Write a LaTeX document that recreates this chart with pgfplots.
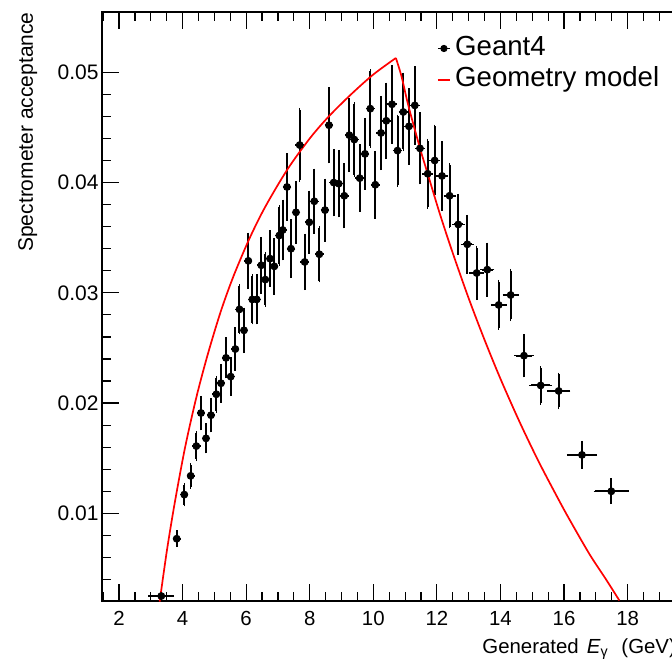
\documentclass[border=0pt]{standalone}
\usepackage{fontspec}
\setmainfont{Liberation Sans}
\usepackage{pgfplots}
\usepackage{pgfplotstable}
\pgfplotsset{compat=1.18}

% Geant4 acceptance per bin: centre, value, half bin width, stat. error
\pgfplotstableread{
x      y       ex     ey
3.33   0.0025  0.35   0.0003
3.815  0.0077  0.075  0.0006
4.054  0.0117  0.075  0.0009
4.255  0.0134  0.075  0.0010
4.432  0.0161  0.075  0.0012
4.579  0.0191  0.075  0.0014
4.737  0.0168  0.075  0.0012
4.894  0.0189  0.075  0.0014
5.061  0.0208  0.075  0.0015
5.209  0.0218  0.075  0.0016
5.366  0.0241  0.075  0.0017
5.514  0.0224  0.075  0.0016
5.658  0.0249  0.075  0.0018
5.79   0.0285  0.075  0.0021
5.932  0.0266  0.075  0.0019
6.067  0.0329  0.075  0.0024
6.193  0.0294  0.075  0.0021
6.332  0.0294  0.075  0.0021
6.476  0.0325  0.075  0.0024
6.602  0.0312  0.075  0.0023
6.75   0.0331  0.075  0.0024
6.885  0.0324  0.075  0.0024
7.043  0.0352  0.08   0.0026
7.15   0.0357  0.08   0.0026
7.285  0.0396  0.08   0.0029
7.411  0.0340  0.08   0.0025
7.568  0.0373  0.08   0.0027
7.684  0.0434  0.08   0.0032
7.842  0.0328  0.08   0.0024
7.986  0.0364  0.08   0.0027
8.143  0.0383  0.08   0.0028
8.301  0.0335  0.08   0.0024
8.48   0.0375  0.08   0.0027
8.606  0.0452  0.08   0.0033
8.754  0.0400  0.08   0.0029
8.911  0.0399  0.08   0.0029
9.087  0.0388  0.08   0.0028
9.244  0.0443  0.085  0.0032
9.402  0.0439  0.085  0.0032
9.572  0.0404  0.085  0.0029
9.738  0.0426  0.085  0.0031
9.905  0.0467  0.085  0.0034
10.062 0.0398  0.085  0.0029
10.242 0.0445  0.09   0.0032
10.408 0.0456  0.09   0.0033
10.588 0.0471  0.09   0.0034
10.761 0.0429  0.09   0.0031
10.943 0.0464  0.09   0.0034
11.122 0.0451  0.09   0.0033
11.305 0.0470  0.10   0.0034
11.468 0.0431  0.10   0.0031
11.71  0.0408  0.11   0.0030
11.93  0.0420  0.11   0.0031
12.16  0.0406  0.12   0.0030
12.40  0.0388  0.13   0.0028
12.673 0.0362  0.14   0.0026
12.956 0.0344  0.15   0.0025
13.252 0.0318  0.17   0.0023
13.585 0.0321  0.17   0.0023
13.944 0.0289  0.19   0.0021
14.321 0.0298  0.20   0.0022
14.74  0.0243  0.25   0.0018
15.265 0.0216  0.30   0.0016
15.831 0.0211  0.31   0.0015
16.564 0.0153  0.42   0.0011
17.486 0.0120  0.50   0.0010
}\geant

% geometry model, rising and falling branch
\pgfplotstableread{
x     y
3.28  0.0020
3.50  0.0065
3.75  0.0109
4.08  0.0160
4.44  0.0206
4.80  0.0245
5.20  0.0283
5.60  0.0315
6.10  0.0349
6.60  0.0378
7.30  0.0412
8.00  0.0440
8.60  0.0460
9.30  0.0480
10.00 0.0498
10.71 0.0513
}\georise

\pgfplotstableread{
x     y
10.71 0.0513
10.89 0.0496
11.10 0.0470
11.47 0.0431
11.71 0.0408
12.10 0.0371
12.50 0.0336
13.00 0.0295
13.49 0.0258
14.00 0.0222
14.60 0.0183
15.20 0.0147
15.80 0.0114
16.16 0.0095
16.80 0.0063
17.30 0.0041
17.74 0.0021
}\geofall

\begin{document}
\begin{tikzpicture}
\useasboundingbox (-51pt,-29pt) rectangle (285pt,300.5pt);
\clip (-51pt,-29pt) rectangle (285pt,300.5pt);
\begin{axis}[
    scale only axis,
    width=294.6pt, height=294.5pt,
    xmin=1.465, xmax=20,
    ymin=0.00205, ymax=0.05547,
    xtick={0,2,...,20},
    ytick={0,0.01,0.02,0.03,0.04,0.05},
    minor x tick num=3,
    minor y tick num=4,
    scaled y ticks=false,
    major tick length=8.5pt,
    minor tick length=4.3pt,
    tick style={black, line width=0.6pt},
    axis line style={line width=0.9pt},
    /pgf/number format/assume math mode=true,
    y tick label style={
        /pgf/number format/fixed,
        /pgf/number format/fixed zerofill,
        /pgf/number format/precision=2,
        font=\fontsize{10.5}{12}\selectfont, inner sep=1.5pt},
    x tick label style={font=\fontsize{10.2}{12}\selectfont, inner sep=5pt},
    legend style={
        at={(axis description cs:0.5686,0.9601)},
        anchor=north west,
        draw=none, fill=none,
        inner sep=0pt, outer sep=0pt,
        font=\fontsize{13.8}{15}\selectfont,
        row sep=2.75pt, column sep=2.2pt,
        nodes={inner sep=0pt, text height=10pt, text depth=3pt},
    },
    legend cell align=left,
]

\addplot[only marks, mark=*, mark size=1.75pt, black,
    legend image code/.code={
        \draw[black, line width=0.9pt] (0pt,0pt) -- (6pt,0pt);
        \fill[black] (3pt,0pt) circle (1.6pt);},
    error bars/.cd,
        x dir=both, x explicit,
        y dir=both, y explicit,
        error bar style={line width=1pt, black},
        error mark options={black, line width=0.8pt, mark size=0.9pt}]
    table[x=x, y=y, x error=ex, y error=ey] {\geant};
\addlegendentry{Geant4}

\addplot[red, line width=0.85pt, smooth,
    legend image code/.code={
        \draw[red, line width=0.85pt] (0pt,0pt) -- (6pt,0pt);}]
    table[x=x, y=y] {\georise};
\addlegendentry{Geometry model}

\addplot[red, line width=0.85pt, smooth, forget plot]
    table[x=x, y=y] {\geofall};

\end{axis}

\node[rotate=90, anchor=base east, inner sep=0pt, font=\fontsize{10.5}{12}\selectfont]
    at (-34.5pt,294.5pt) {Spectrometer acceptance};
\node[anchor=base west, inner sep=0pt, font=\fontsize{10.2}{12}\selectfont]
    at (190pt,-26pt) {Generated\hspace{1.2pt} \textit{E}\textsubscript{γ}\hspace{3.5pt} (GeV)};
\end{tikzpicture}
\end{document}
